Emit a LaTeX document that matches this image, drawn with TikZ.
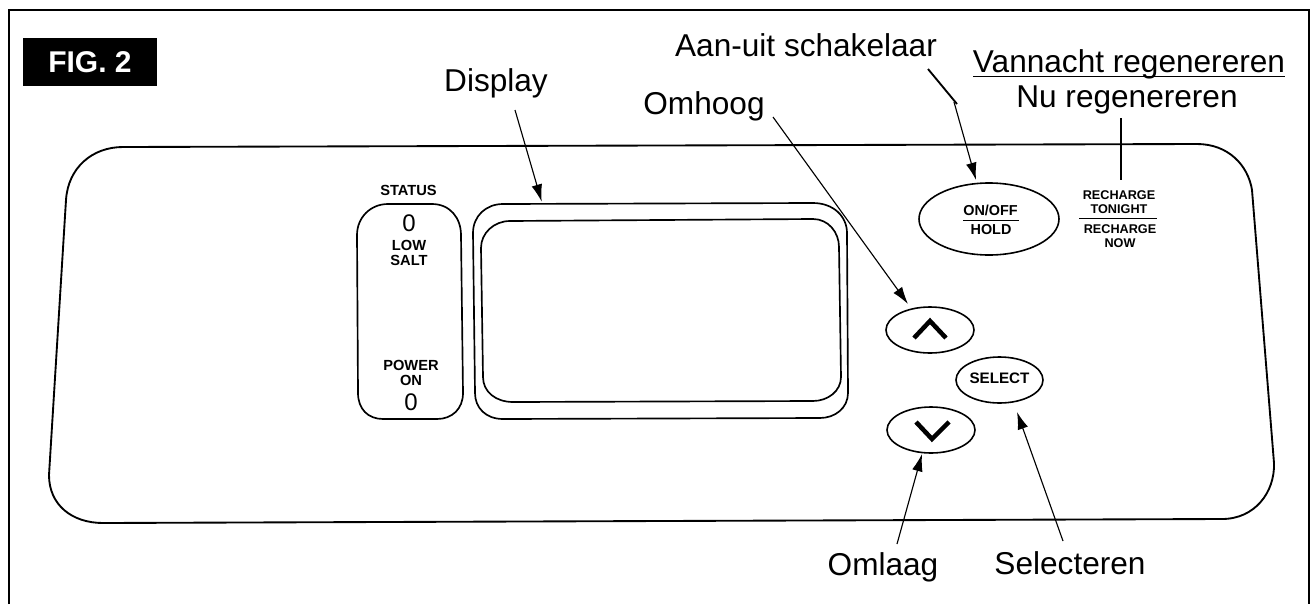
\documentclass[tikz,border=0pt]{standalone}
\usepackage{fontspec}
\setmainfont{Liberation Sans}
\usetikzlibrary{arrows.meta,shapes.geometric}
\tikzset{
  x=0.75pt,y=-0.75pt,
  panel/.style={line width=1.4pt},
  outlinebox/.style={line width=1.25pt},
  callout/.style={font=\fontsize{23.7}{26}\selectfont,inner sep=0pt,anchor=base},
  small/.style={font=\fontsize{11}{11.25}\selectfont\bfseries,align=center,inner sep=0pt},
  tiny/.style={font=\fontsize{9.5}{10.5}\selectfont\bfseries,align=center,inner sep=0pt},
  digit/.style={font=\fontsize{18}{20}\selectfont,inner sep=0pt},
  lead/.style={line width=0.85pt,-{Latex[length=13pt,width=8pt]}},
  plainlead/.style={line width=1.2pt},
  btn/.style={draw,ellipse,line width=1.2pt,inner sep=0pt},
  chevron/.style={line width=3.4pt},
}
\begin{document}
\begin{tikzpicture}
\useasboundingbox (0,0) rectangle (1311,604);
% frame
\draw[line width=2.2pt] (9,604) -- (9,10) -- (1309,10) -- (1309,604);
% FIG label
\node[fill=black,text=white,minimum width=134*0.75pt,minimum height=48*0.75pt,inner sep=0pt,font=\fontsize{22.5}{24}\selectfont\bfseries] (fig) at (90,62) {FIG. 2};
% panel outline
\draw[panel] (123,147) -- (1197,144)
  .. controls (1228,144) and (1248,165) .. (1252,190)
  -- (1274,463)
  .. controls (1275,492) and (1255,519) .. (1222,519)
  -- (103,523)
  .. controls (72,523) and (49,505) .. (49,475)
  -- (66,200)
  .. controls (68,168) and (92,147) .. (123,147) -- cycle;
% status
\node[small] (st) at (408.5,190) {STATUS};
\draw[outlinebox] (388,204) -- (432,204) .. controls (450,204) and (461,218) .. (461,235)
  -- (463,393) .. controls (463,409) and (452,419) .. (437,419)
  -- (383,419) .. controls (368,419) and (358,409) .. (358,393)
  -- (357,235) .. controls (357,218) and (370,204) .. (388,204) -- cycle;
\node[digit] (o1) at (409,223) {0};
\node[small] (low) at (409,252.5) {LOW\\SALT};
\node[small] (pow) at (411,373) {POWER\\ON};
\node[digit] (o2) at (411,402) {0};
% display
\draw[outlinebox] (503,204) -- (813,203) .. controls (833,203) and (847,216) .. (847,233)
  -- (848,393) .. controls (848,408) and (835,418) .. (820,418)
  -- (503,419) .. controls (486,419) and (475,408) .. (475,393)
  -- (473,233) .. controls (473,216) and (486,204) .. (503,204) -- cycle;
\draw[outlinebox] (510,221) -- (813,219) .. controls (828,219) and (839,232) .. (839,247)
  -- (841,377) .. controls (841,391) and (828,401) .. (813,401)
  -- (513,402) .. controls (496,402) and (483,392) .. (483,377)
  -- (481,248) .. controls (481,233) and (494,221) .. (510,221) -- cycle;
% buttons
\node[btn,minimum width=140*0.75pt,minimum height=72*0.75pt] (onoff) at (989,219) {};
\node[inner sep=0pt,font=\fontsize{10.8}{12}\selectfont\bfseries] (on) at (990.5,210) {ON/OFF};
\node[inner sep=0pt,font=\fontsize{10.8}{12}\selectfont\bfseries] (hold) at (991,229.5) {HOLD};
\coordinate (oa) at (963,220.5); \coordinate (ob) at (1019,220.5);
\draw[line width=0.8pt] (oa) -- (ob);
\node[btn,minimum width=88*0.75pt,minimum height=46*0.75pt] (up) at (930,330) {};
\node[btn,minimum width=88*0.75pt,minimum height=46*0.75pt] (down) at (931,430) {};
\node[btn,minimum width=87*0.75pt,minimum height=46*0.75pt] (sel) at (999.5,380) {};
\node[inner sep=0pt,font=\fontsize{11.4}{12}\selectfont\bfseries] (seltext) at (999.5,378) {SELECT};
\draw[chevron] (914,338) -- (930,321) -- (946,338);
\draw[chevron] (916,422) -- (932,439) -- (949,422);
% recharge
\node[tiny] (rt) at (1119,202.5) {RECHARGE\\TONIGHT};
\node[tiny] (rn) at (1120,236.5) {RECHARGE\\NOW};
\coordinate (ra) at (1079,218.5); \coordinate (rb) at (1157,218.5);
\draw[line width=0.8pt] (ra) -- (rb);
% callouts
\node[callout] (aan) at (806,56) {Aan-uit schakelaar};
\node[callout] (van) at (1129,72) {Vannacht regenereren};
\coordinate (ua) at (973,76.5); \coordinate (ub) at (1285,76.5);
\draw[line width=1pt] (ua) -- (ub);
\node[callout] (nu) at (1127,107) {Nu regenereren};
\node[callout] (disp) at (496,91) {Display};
\node[callout] (omh) at (704,114) {Omhoog};
\node[callout] (oml) at (883,575) {Omlaag};
\node[callout] (sele) at (1070,574) {Selecteren};
% leaders
\coordinate (a1) at (928,69); \coordinate (a2) at (957,104);
\coordinate (a4) at (954,102); \coordinate (a3) at (976,180);
\draw[line width=1.4pt] (a1) -- (a2);
\draw[lead] (a4) -- (a3);
\coordinate (r1) at (1121,118); \coordinate (r2) at (1121,180);
\draw[plainlead] (r1) -- (r2);
\coordinate (d1) at (515,110); \coordinate (d2) at (541.7,201.7);
\draw[lead] (d1) -- (d2);
\coordinate (u1) at (773,117); \coordinate (u2) at (908,304);
\draw[lead] (u1) -- (u2);
\coordinate (w1) at (897,544); \coordinate (w2) at (922,454);
\draw[lead] (w1) -- (w2);
\coordinate (s1) at (1063,541); \coordinate (s2) at (1017,412);
\draw[lead] (s1) -- (s2);
\end{tikzpicture}
\end{document}
